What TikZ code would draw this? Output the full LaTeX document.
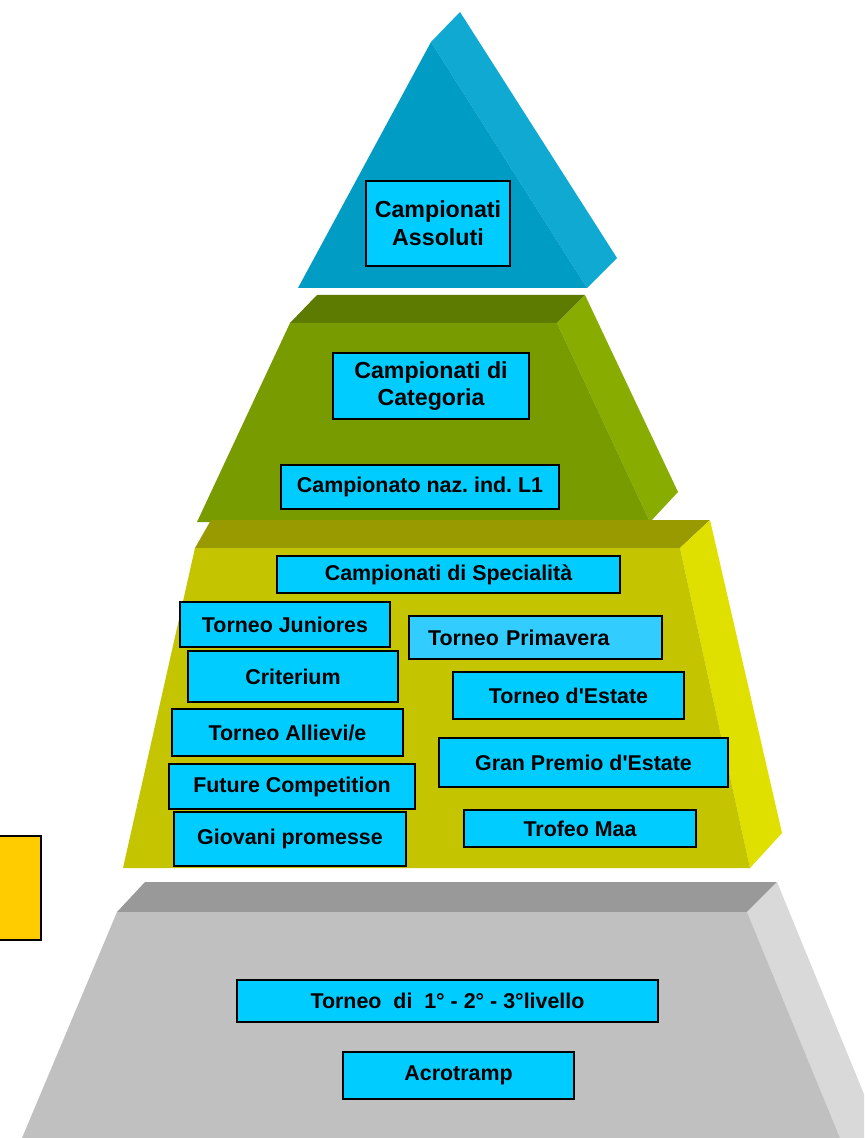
\documentclass[tikz,border=0pt]{standalone}
\usepackage{fontspec}
\setmainfont{Liberation Sans}
\frenchspacing
\definecolor{boxblue}{HTML}{00CCFF}
\definecolor{boxlight}{HTML}{33CCFF}
\definecolor{legendgold}{HTML}{FFCC00}
\definecolor{blueFront}{HTML}{009CC4}
\definecolor{blueSide}{HTML}{0FA9D1}
\definecolor{greenTop}{HTML}{5C7B00}
\definecolor{greenFront}{HTML}{789B00}
\definecolor{greenSide}{HTML}{88AD00}
\definecolor{yellowTop}{HTML}{999900}
\definecolor{yellowFront}{HTML}{C4C400}
\definecolor{yellowSide}{HTML}{E0E000}
\definecolor{grayTop}{HTML}{999999}
\definecolor{grayFront}{HTML}{C0C0C0}
\definecolor{graySide}{HTML}{D9D9D9}
\begin{document}
\begin{tikzpicture}
        [x=0.5pt, y=-0.5pt,
         box_style/.style={rectangle,draw=black,line width=0.9pt,fill=boxblue,inner sep=0pt,
                           font=\bfseries\fontsize{10.7}{12.5}\selectfont},
         box_style_big/.style={box_style,align=center,font=\bfseries\fontsize{11.6}{13.9}\selectfont},
         box_style_light/.style={box_style,fill=boxlight},
         legend_style/.style={rectangle,draw=black,line width=0.9pt,fill=legendgold,inner sep=0pt}]
            \useasboundingbox (0,0) rectangle (864,1138);
            \clip (0,0) rectangle (864,1138);
            % top: triangle
            \fill[blueSide]  (431,42) -- (460,12) -- (617,258) -- (587,288) -- cycle;
            \fill[blueFront] (298,288) -- (431,42) -- (587,288) -- cycle;
            % second level
            \fill[greenTop]   (290,323) -- (317,295) -- (585,295) -- (557,323) -- cycle;
            \fill[greenSide]  (557,323) -- (585,295) -- (678,492) -- (650,522) -- cycle;
            \fill[greenFront] (290,323) -- (557,323) -- (650,522) -- (197,522) -- cycle;
            % third level
            \fill[yellowTop]   (195,548) -- (211,520) -- (710,520) -- (680,548) -- cycle;
            \fill[yellowSide]  (680,548) -- (710,520) -- (782,833) -- (750,868) -- cycle;
            \fill[yellowFront] (195,548) -- (680,548) -- (750,868) -- (123,868) -- cycle;
            % base
            \fill[grayTop]   (117,912) -- (145,882) -- (777,882) -- (747,912) -- cycle;
            \fill[graySide]  (747,912) -- (777,882) -- (882,1138) -- (840,1138) -- cycle;
            \fill[grayFront] (117,912) -- (747,912) -- (840,1138) -- (22,1138) -- cycle;

            \node[box_style_big, minimum width=72pt, minimum height=42.5pt] (assoluti) at (438,223.5) {Campionati\\Assoluti};
            \node[box_style_big, minimum width=98pt, minimum height=33pt] (categoria) at (431,386) {Campionati di\\Categoria};
            \node[box_style, minimum width=139pt, minimum height=22pt] (l1) at (420,487) {Campionato naz. ind. L1};

            \node[box_style, minimum width=171.5pt, minimum height=18.5pt] (specialita) at (448.5,574.5) {Campionati di Specialità};
            \node[box_style, minimum width=105pt, minimum height=22.5pt] (juniores) at (285,624.5) {Torneo Juniores};
            \node[box_style, minimum width=105pt, minimum height=25.5pt] (criterium) at (293,676.5) {Criterium};
            \node[box_style, minimum width=115.5pt, minimum height=23.5pt] (allievi) at (287.5,732.5) {Torneo Allievi/e};
            \node[box_style, minimum width=123pt, minimum height=22.5pt] (future) at (292,786.5) {Future Competition};
            \node[box_style, minimum width=116pt, minimum height=27pt] (giovani) at (290,839) {Giovani promesse};
            \node[box_style_light, minimum width=126.5pt, minimum height=21.5pt, text width=107.5pt,
                  inner xsep=9.5pt, align=left] (primavera) at (535.5,637.5) {Torneo Primavera};
            \node[box_style, minimum width=115.5pt, minimum height=23.5pt] (destate) at (568.5,695.5) {Torneo d\textquotesingle Estate};
            \node[box_style, minimum width=144.5pt, minimum height=24.5pt] (granpremio) at (583.5,762.5) {Gran Premio d\textquotesingle Estate};
            \node[box_style, minimum width=116pt, minimum height=18.5pt] (trofeo) at (580,828.5) {Trofeo Maa};

            \node[box_style, minimum width=210.5pt, minimum height=21pt] (livello) at (447.5,1001) {Torneo\ \ di\ \ 1° - 2° - 3°livello};
            \node[box_style, minimum width=115.5pt, minimum height=23.5pt] (acrotramp) at (458.5,1075.5) {Acrotramp};

            \node[legend_style, minimum width=22pt, minimum height=52pt] (legend) at (19,888) {};
        \end{tikzpicture}
\end{document}
